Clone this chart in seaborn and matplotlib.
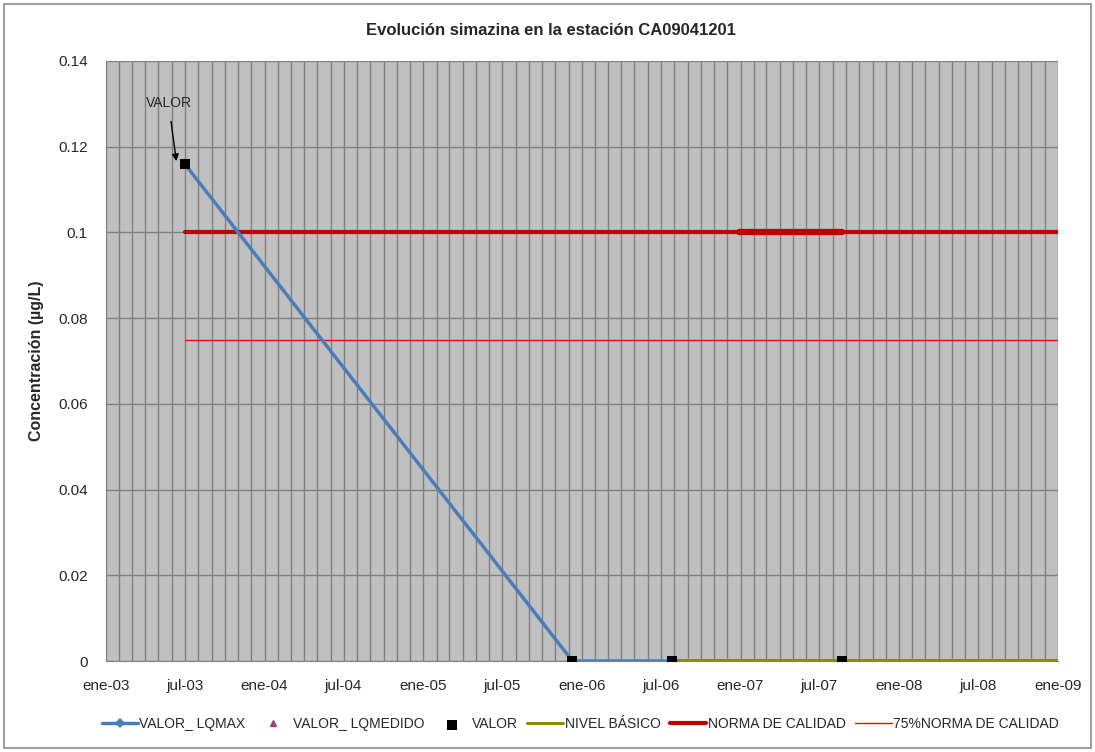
import matplotlib
matplotlib.use("Agg")
import matplotlib.pyplot as plt
import matplotlib.dates as mdates
import matplotlib.ticker as mticker
import pandas as pd
import seaborn as sns
from matplotlib.patches import Rectangle

# ---------------------------------------------------------------------------
# Data
# ---------------------------------------------------------------------------
sample_dates = ["2003-07-01", "2005-12-10", "2006-07-28", "2007-08-22"]
valor_lqmax = [0.116, 0.0, 0.0, 0.0]
valor = [0.116, 0.0, 0.0, 0.0]

basico_dates = ["2006-07-28", "2009-01-01"]
nivel_basico = [0.0002, 0.0002]

norma_dates = ["2003-07-01", "2009-01-01"]
norma_calidad = [0.1, 0.1]
norma_75 = [0.075, 0.075]

# overlapping stretch of the quality standard (drawn thicker in the source)
norma_overlap_dates = ["2006-12-28", "2007-08-22"]
norma_overlap = [0.1, 0.1]

MESES = ["ene", "feb", "mar", "abr", "may", "jun",
         "jul", "ago", "sep", "oct", "nov", "dic"]

sns.set_style("white")
plt.rcParams["font.family"] = ["Liberation Sans", "DejaVu Sans"]

df_s = pd.DataFrame({"fecha": pd.to_datetime(sample_dates),
                     "lqmax": valor_lqmax, "valor": valor})
df_b = pd.DataFrame({"fecha": pd.to_datetime(basico_dates), "v": nivel_basico})
df_n = pd.DataFrame({"fecha": pd.to_datetime(norma_dates),
                     "norma": norma_calidad, "n75": norma_75})
df_o = pd.DataFrame({"fecha": pd.to_datetime(norma_overlap_dates),
                     "v": norma_overlap})

fig = plt.figure(figsize=(10.95, 7.52), dpi=100)
ax = fig.add_axes([0.0968, 0.121, 0.8694, 0.798])
ax.set_facecolor("#C0C0C0")

sns.lineplot(data=df_s, x="fecha", y="lqmax", ax=ax, color="#4A7EBB",
             linewidth=2.5, marker="D", markersize=5, markeredgewidth=0,
             label="VALOR_ LQMAX", zorder=3)
# VALOR_LQMEDIDO has no visible points; legend entry only
ax.plot([], [], linestyle="none", marker="^", color="#A0447A",
        markersize=5, label="VALOR_ LQMEDIDO")
sns.scatterplot(data=df_s, x="fecha", y="valor", ax=ax, color="black",
                marker="s", s=60, linewidth=0, label="VALOR", zorder=6)
sns.lineplot(data=df_b, x="fecha", y="v", ax=ax, color="#8C8C00",
             linewidth=2.2, label="NIVEL BÁSICO", zorder=4)
sns.lineplot(data=df_n, x="fecha", y="norma", ax=ax, color="#C00000",
             linewidth=3, label="NORMA DE CALIDAD", zorder=2)
sns.lineplot(data=df_o, x="fecha", y="v", ax=ax, color="#C00000",
             linewidth=4.5, zorder=2, legend=False)
sns.lineplot(data=df_n, x="fecha", y="n75", ax=ax, color="#FF0000",
             linewidth=1, label="75%NORMA DE CALIDAD", zorder=2)

ax.annotate("VALOR", xy=(pd.Timestamp("2003-06-12"), 0.1166),
            xytext=(pd.Timestamp("2003-05-25"), 0.1302),
            ha="center", va="center", fontsize=10,
            arrowprops=dict(arrowstyle="-|>", color="black", lw=1,
                            shrinkA=6, shrinkB=0, mutation_scale=10))

ax.set_xlim(pd.Timestamp("2003-01-01"), pd.Timestamp("2009-01-01"))
ax.set_ylim(0, 0.14)
ax.xaxis.set_major_locator(mdates.MonthLocator(bymonth=[1, 7]))
ax.xaxis.set_minor_locator(mdates.MonthLocator())
ax.xaxis.set_major_formatter(mticker.FuncFormatter(
    lambda v, p: "{}-{}".format(MESES[mdates.num2date(v).month - 1],
                                 mdates.num2date(v).strftime("%y"))))
ax.yaxis.set_major_locator(mticker.MultipleLocator(0.02))
ax.yaxis.set_major_formatter(mticker.FuncFormatter(lambda v, p: "%g" % round(v, 2)))

ax.grid(which="both", axis="x", color="#808080", linewidth=1)
ax.grid(which="major", axis="y", color="#808080", linewidth=1)
ax.set_axisbelow(True)
ax.tick_params(axis="both", which="major", direction="out", length=5,
               color="#808080", labelsize=11, pad=8)
ax.tick_params(axis="x", which="minor", length=0)
for side in ["top", "right"]:
    ax.spines[side].set_visible(False)
for side in ["left", "bottom"]:
    ax.spines[side].set_color("#808080")

ax.set_xlabel("")
ax.set_ylabel("Concentración (µg/L)", fontsize=11.5, fontweight="bold",
              labelpad=10)
fig.suptitle("Evolución simazina en la estación CA09041201", fontsize=12,
             fontweight="bold", x=0.503, y=0.969)

handles, labels = ax.get_legend_handles_labels()
order = ["VALOR_ LQMAX", "VALOR_ LQMEDIDO", "VALOR", "NIVEL BÁSICO",
         "NORMA DE CALIDAD", "75%NORMA DE CALIDAD"]
hmap = dict(zip(labels, handles))
ax.legend([hmap[k] for k in order], order, loc="center",
          bbox_to_anchor=(0.53, 0.037), bbox_transform=fig.transFigure,
          ncol=6, frameon=False, fontsize=10, handlelength=2.6,
          handletextpad=0.1, columnspacing=0.7)

fig.patches.append(Rectangle((0.004, 0.005), 0.992, 0.99,
                             transform=fig.transFigure, fill=False,
                             edgecolor="#A0A0A0", linewidth=1.5))

fig.savefig("out.png", dpi=100)
